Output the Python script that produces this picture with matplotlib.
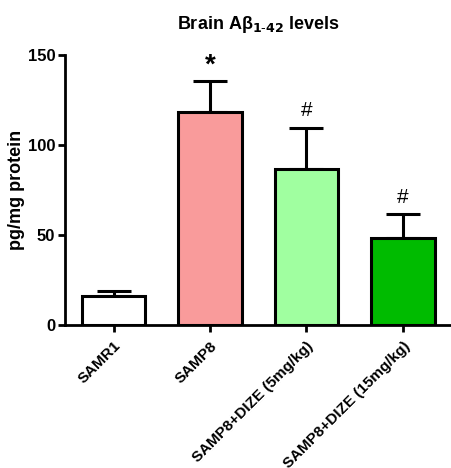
import matplotlib.pyplot as plt

plt.rcParams['font.family'] = ['Liberation Sans', 'DejaVu Sans']

groups = ["SAMR1", "SAMP8", "SAMP8+DIZE (5mg/kg)", "SAMP8+DIZE (15mg/kg)"]
means = [16.3, 118.2, 86.5, 48.2]
errors = [2.8, 17.5, 23.1, 13.5]
marks = ["", "*", "#", "#"]
colors = ["#ffffff", "#f99b9b", "#a0ffa0", "#00bb00"]

fig = plt.figure(figsize=(4.51, 4.68), dpi=100)
ax = fig.add_axes([0.144, 0.3056, 0.856, 0.577])

x = range(len(groups))
ax.bar(x, means, width=0.66, color=colors, edgecolor="black", linewidth=2.2, zorder=2)
ax.errorbar(x, means, yerr=[[0] * len(errors), errors], fmt="none", ecolor="black",
            elinewidth=2.2, capsize=12, capthick=2.2, zorder=1)

for xi, m, e, s in zip(x, means, errors, marks):
    if s == "*":
        ax.text(xi, m + e + 1, s, ha="center", va="bottom", fontsize=20, fontweight="bold")
    elif s:
        ax.text(xi, m + e + 4, s, ha="center", va="bottom", fontsize=15)

ax.set_xlim(-0.505, 3.5)
ax.set_ylim(0, 150)
ax.set_yticks([0, 50, 100, 150])
ax.set_xticks(list(x))
ax.set_xticklabels(groups, rotation=45, ha="right", rotation_mode="anchor",
                   fontsize=11, fontweight="bold")
for lab in ax.get_yticklabels():
    lab.set_fontweight("bold")
    lab.set_fontsize(12)

ax.spines["top"].set_visible(False)
ax.spines["right"].set_visible(False)
ax.spines["left"].set_linewidth(2)
ax.spines["bottom"].set_linewidth(2)
ax.tick_params(width=2, length=5, pad=2)
ax.tick_params(axis="x", pad=5)

ax.set_ylabel("pg/mg protein", fontsize=13, fontweight="bold", labelpad=2)
ax.set_title("Brain A\u03b2$_{\\mathbf{1\\text{-}42}}$ levels", fontsize=13, fontweight="bold", pad=19)

fig.savefig("out.png", dpi=100)
